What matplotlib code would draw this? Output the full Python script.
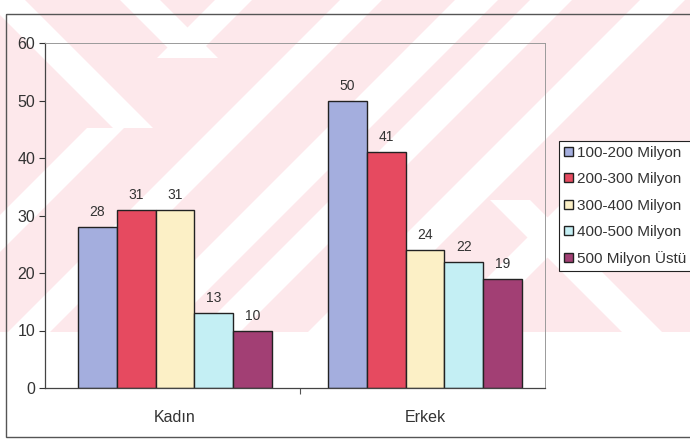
import matplotlib.pyplot as plt
from matplotlib.patches import Polygon, Rectangle
import numpy as np

plt.rcParams['font.family'] = ['Liberation Sans', 'DejaVu Sans']

groups = ["Kadın", "Erkek"]
series = ["100-200 Milyon", "200-300 Milyon", "300-400 Milyon",
          "400-500 Milyon", "500 Milyon Üstü"]
kadin = [28, 31, 31, 13, 10]
erkek = [50, 41, 24, 22, 19]
colors = ["#a4aede", "#e64a60", "#fcf0c6", "#c4eff4", "#a23f74"]

W, H = 690, 444
fig = plt.figure(figsize=(W / 100, H / 100), dpi=100)
fig.patch.set_facecolor("white")

# page background: pale pink band with white diagonal stripes
bg = fig.add_axes([0, 0, 1, 1], zorder=0)
bg.set_xlim(0, W)
bg.set_ylim(H, 0)
bg.axis("off")
pink_h = 332
pink = Rectangle((0, 0), W, pink_h, facecolor="#fde8eb", edgecolor="none")
bg.add_patch(pink)


def band(lo, hi, y0, y1, rising=True):
    # white stripe between two 45-degree lines, limited to rows y0..y1
    if rising:   # lines x + y = c
        pts = [(lo - y0, y0), (hi - y0, y0), (hi - y1, y1), (lo - y1, y1)]
    else:        # lines x - y = c
        pts = [(lo + y0, y0), (hi + y0, y0), (hi + y1, y1), (lo + y1, y1)]
    p = Polygon(pts, facecolor="white", edgecolor="none")
    bg.add_patch(p)
    p.set_clip_path(pink)


band(215, 252, 0, 58)
band(215, 252, 128, pink_h)
band(340, 382, 0, pink_h)
band(455, 498, 0, pink_h)
band(530, 572, 0, pink_h)
band(640, 685, 0, pink_h)
band(765, 805, 150, pink_h)
band(-15, 25, 0, 128, rising=False)
band(120, 160, 0, 58, rising=False)
band(290, 330, 200, pink_h, rising=False)

# chart frame
bg.add_patch(Rectangle((6, 14), 700, 423, facecolor="none",
                       edgecolor="#555555", lw=1.0))

ax = fig.add_axes([45 / W, 1 - 388 / H, 500 / W, 345 / H], zorder=1)
ax.patch.set_alpha(0)

n = len(series)
bw = 0.155
x = np.arange(len(groups))
for i, name in enumerate(series):
    vals = [kadin[i], erkek[i]]
    pos = x + (i - (n - 1) / 2) * bw
    bars = ax.bar(pos, vals, bw, color=colors[i], edgecolor="#222222",
                  lw=1.0, label=name)
    for b, v in zip(bars, vals):
        ax.annotate(str(v), (b.get_x() + b.get_width() / 2, v),
                    xytext=(0, 8), textcoords="offset pixels",
                    ha="center", va="bottom", fontsize=10, color="#333333")

ax.set_xlim(-0.52, 1.48)
ax.set_ylim(0, 60)
ax.set_yticks(range(0, 61, 10))
ax.tick_params(axis="y", labelsize=11.5, length=4, width=0.8,
               colors="#333333", pad=3)
ax.set_xticks([0.5])
ax.set_xticklabels([])
ax.set_xticks(x, minor=True)
ax.set_xticklabels(groups, minor=True, fontsize=11.5, color="#333333")
ax.tick_params(axis="x", which="major", length=4, width=0.8, colors="#555555")
ax.tick_params(axis="x", which="minor", length=0, pad=16)
for s in ["left", "bottom"]:
    ax.spines[s].set_color("#444444")
    ax.spines[s].set_linewidth(0.9)
for s in ["top", "right"]:
    ax.spines[s].set_color("#9a9a9a")
    ax.spines[s].set_linewidth(0.7)

leg = fig.legend(loc="center left", bbox_to_anchor=(559 / W, 1 - 206 / H),
                 fontsize=11, frameon=True, fancybox=False, framealpha=1,
                 edgecolor="#222222", handlelength=0.55, handleheight=0.55,
                 handletextpad=0.25, labelspacing=0.8, borderpad=0.35,
                 borderaxespad=0)
leg.get_frame().set_linewidth(0.8)
for t in leg.get_texts():
    t.set_color("#333333")

fig.savefig("out.png", dpi=100)
